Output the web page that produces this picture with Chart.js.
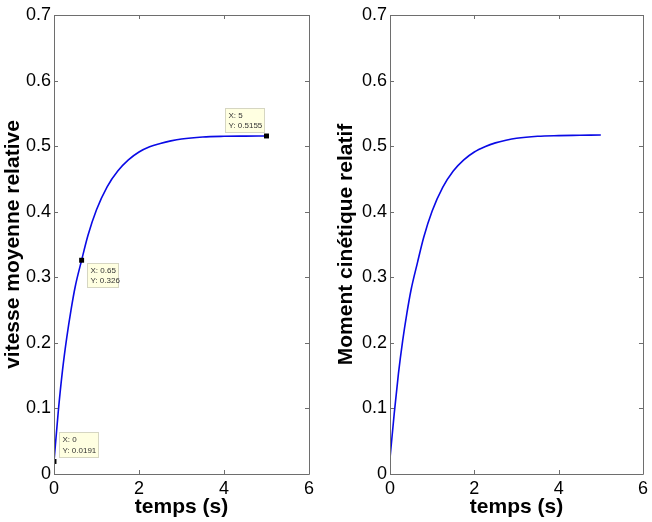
<!DOCTYPE html>
<html>
<head>
<meta charset="utf-8">
<script src="https://cdn.jsdelivr.net/npm/chart.js@4/dist/chart.umd.min.js"></script>
<style>
  html, body { margin: 0; padding: 0; background: #fff; }
  #wrap { position: relative; width: 652px; height: 522px; overflow: hidden; }
  canvas { position: absolute; top: 0; }
</style>
</head>
<body>
<div id="wrap">
  <canvas id="c1" width="326" height="522" style="left:0"></canvas>
  <canvas id="c2" width="326" height="522" style="left:326px"></canvas>
</div>
<script>
// ---- data ----
const times = [0, 0.1, 0.2, 0.3, 0.4, 0.5, 0.65, 0.8, 1.0, 1.25, 1.5, 1.75, 2.0, 2.25, 2.5, 2.75, 3.0, 3.5, 4.0, 4.5, 5.0];
const vitesseValues = [0.0191, 0.095, 0.158, 0.208, 0.250, 0.286, 0.326, 0.364, 0.403, 0.438, 0.462, 0.479, 0.491, 0.499, 0.504, 0.508, 0.511, 0.514, 0.515, 0.5153, 0.5155];
const momentValues  = [0.024, 0.092, 0.153, 0.203, 0.245, 0.281, 0.322, 0.361, 0.401, 0.437, 0.462, 0.479, 0.491, 0.499, 0.505, 0.509, 0.512, 0.515, 0.516, 0.5165, 0.517];
const tipX = [0, 0.65, 5];
const tipY = [0.0191, 0.326, 0.5155];
const xTicks = [0, 2, 4, 6];
const yTicks = [0, 0.1, 0.2, 0.3, 0.4, 0.5, 0.6, 0.7];

const toPts = (xs, ys) => xs.map((x, i) => ({x: x, y: ys[i]}));

// MATLAB-like box with inward ticks on all four sides
const boxPlugin = {
  id: 'boxTicks',
  afterDraw(chart) {
    const {ctx, chartArea: a, scales: {x, y}} = chart;
    ctx.save();
    ctx.strokeStyle = '#6e6e6e';
    ctx.lineWidth = 1;
    ctx.beginPath();
    ctx.rect(Math.round(a.left) + 0.5, Math.round(a.top) + 0.5, Math.round(a.right - a.left), Math.round(a.bottom - a.top));
    const L = 4;
    xTicks.forEach(v => {
      const px = Math.round(x.getPixelForValue(v)) + 0.5;
      ctx.moveTo(px, a.bottom); ctx.lineTo(px, a.bottom - L);
      ctx.moveTo(px, a.top); ctx.lineTo(px, a.top + L);
    });
    yTicks.forEach(v => {
      const py = Math.round(y.getPixelForValue(v)) + 0.5;
      ctx.moveTo(a.left, py); ctx.lineTo(a.left + L, py);
      ctx.moveTo(a.right, py); ctx.lineTo(a.right - L, py);
    });
    ctx.stroke();
    ctx.restore();
  }
};

// data tips (yellow boxes)
const tipPlugin = {
  id: 'dataTips',
  afterDatasetsDraw(chart, args, opts) {
    if (!opts || !opts.tips) return;
    const {ctx, scales: {x, y}} = chart;
    ctx.save();
    opts.tips.forEach((t, i) => {
      const px = x.getPixelForValue(tipX[i]);
      const py = y.getPixelForValue(tipY[i]);
      const bx = Math.round(px + t.dx) + 0.5, by = Math.round(py + t.dy) + 0.5;
      ctx.fillStyle = '#ffffe1';
      ctx.strokeStyle = '#d6d6c2';
      ctx.lineWidth = 1;
      ctx.fillRect(bx, by, t.w, t.h);
      ctx.strokeRect(bx, by, t.w, t.h);
      ctx.fillStyle = '#333';
      ctx.font = '8px "Liberation Sans", Arial, sans-serif';
      ctx.textBaseline = 'middle';
      ctx.textAlign = 'left';
      ctx.fillText('X: ' + tipX[i], bx + 3, by + t.h * 0.3);
      ctx.fillText('Y: ' + tipY[i], bx + 3, by + t.h * 0.72);
    });
    ctx.restore();
  }
};

function makeChart(id, values, yTitle, padRight, yAxisWidth, yTitlePad, withTips) {
  const datasets = [{
    data: toPts(times, values),
    borderColor: '#0a0ae6',
    borderWidth: 1.6,
    pointRadius: 0,
    showLine: true,
    tension: 0.4,
    cubicInterpolationMode: 'monotone',
    order: 2
  }];
  if (withTips) {
    datasets.push({
      data: toPts(tipX, tipY),
      showLine: false,
      pointStyle: 'rect',
      pointRadius: 3.5,
      backgroundColor: '#000',
      borderColor: '#000',
      borderWidth: 0,
      order: 1
    });
  }
  return new Chart(document.getElementById(id), {
    type: 'scatter',
    data: { datasets },
    options: {
      responsive: false,
      devicePixelRatio: 1,
      animation: false,
      events: [],
      layout: { padding: { top: 15, right: padRight, bottom: 0, left: 0 } },
      plugins: {
        legend: { display: false },
        tooltip: { enabled: false },
        dataTips: withTips ? { tips: [
          { dx: 5, dy: -29, w: 39, h: 25 },
          { dx: 5, dy: 3, w: 31, h: 24 },
          { dx: -42, dy: -28, w: 39, h: 24 }
        ] } : {}
      },
      scales: {
        x: {
          type: 'linear', min: 0, max: 6,
          afterBuildTicks: s => { s.ticks = xTicks.map(v => ({value: v})); },
          afterFit: s => { s.height = 48; },
          grid: { display: false, drawTicks: false },
          border: { display: false },
          ticks: { padding: 4, color: '#000', font: { family: '"Liberation Sans", Arial, sans-serif', size: 18 }, maxRotation: 0 },
          title: { display: true, text: 'temps (s)', color: '#000', padding: { top: 0, bottom: 2 },
                   font: { family: '"Liberation Sans", Arial, sans-serif', size: 21, weight: 'bold' } }
        },
        y: {
          type: 'linear', min: 0, max: 0.7,
          afterBuildTicks: s => { s.ticks = yTicks.map(v => ({value: v})); },
          afterFit: s => { s.width = yAxisWidth; },
          grid: { display: false, drawTicks: false },
          border: { display: false },
          ticks: { padding: 3, color: '#000', font: { family: '"Liberation Sans", Arial, sans-serif', size: 18 },
                   callback: v => v === 0 ? '0' : v.toFixed(1) },
          title: { display: true, text: yTitle, color: '#000', padding: { top: yTitlePad, bottom: 0 },
                   font: { family: '"Liberation Sans", Arial, sans-serif', size: 21, weight: 'bold' } }
        }
      }
    },
    plugins: [boxPlugin, tipPlugin]
  });
}

makeChart('c1', vitesseValues, 'vitesse moyenne relative', 17, 54, 1, true);
makeChart('c2', momentValues, 'Moment cinétique relatif', 7, 64, 8, false);
</script>
</body>
</html>
